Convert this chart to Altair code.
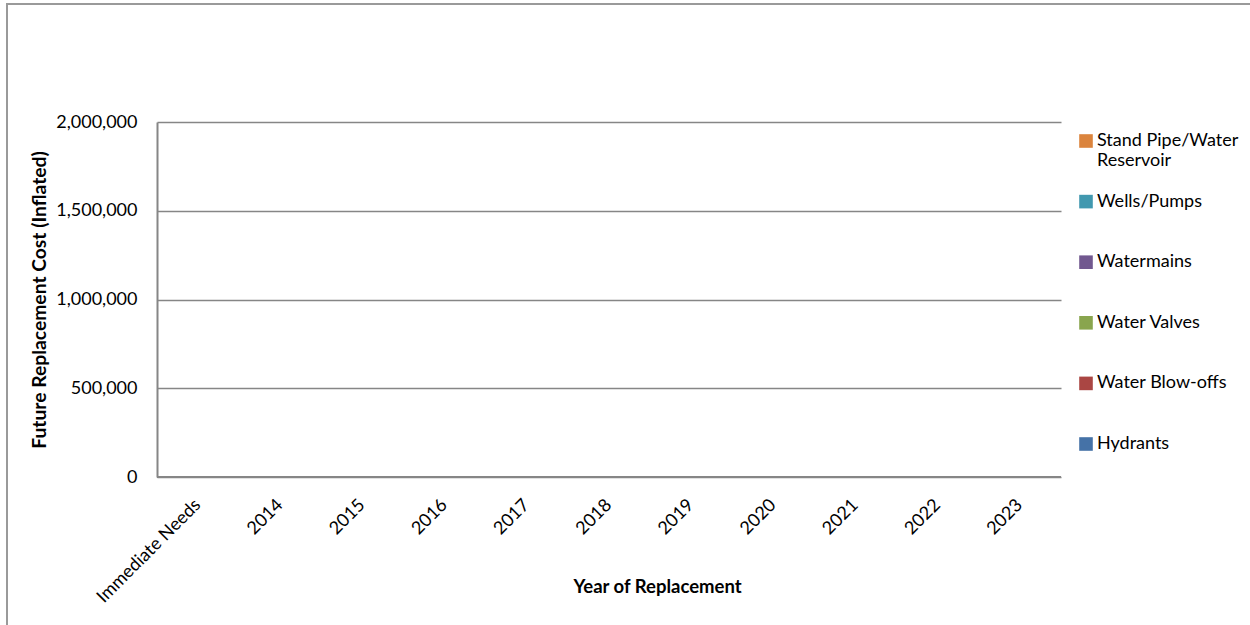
import altair as alt
import pandas as pd

# Replacement years and asset classes
periods = ["Immediate Needs", "2014", "2015", "2016", "2017", "2018",
           "2019", "2020", "2021", "2022", "2023"]
assets = ["Stand Pipe/Water Reservoir", "Wells/Pumps", "Watermains",
          "Water Valves", "Water Blow-offs", "Hydrants"]
colors = ["#DB843D", "#4198AF", "#71588F", "#89A54E", "#AA4643", "#4572A7"]

# Future replacement cost per asset class (no scheduled spending)
cost_hydrants = [0, 0, 0, 0, 0, 0, 0, 0, 0, 0, 0]
cost_blowoffs = [0, 0, 0, 0, 0, 0, 0, 0, 0, 0, 0]
cost_valves = [0, 0, 0, 0, 0, 0, 0, 0, 0, 0, 0]
cost_watermains = [0, 0, 0, 0, 0, 0, 0, 0, 0, 0, 0]
cost_wells = [0, 0, 0, 0, 0, 0, 0, 0, 0, 0, 0]
cost_standpipe = [0, 0, 0, 0, 0, 0, 0, 0, 0, 0, 0]

series = {
    "Hydrants": cost_hydrants,
    "Water Blow-offs": cost_blowoffs,
    "Water Valves": cost_valves,
    "Watermains": cost_watermains,
    "Wells/Pumps": cost_wells,
    "Stand Pipe/Water Reservoir": cost_standpipe,
}
stack_order = list(series.keys())

rows = []
for name, vals in series.items():
    for p, v in zip(periods, vals):
        rows.append({"period": p, "asset": name, "cost": v,
                     "order": stack_order.index(name)})
df = pd.DataFrame(rows)

FONT = "Lato"

bars = alt.Chart(df).mark_bar(size=50).encode(
    x=alt.X("period:N", sort=periods, title="Year of Replacement",
            axis=alt.Axis(labelAngle=-45, labelAlign="right",
                          labelBaseline="middle", ticks=False,
                          labelPadding=25, domain=False, titlePadding=-29,
                          titleX=500, titleFontSize=18.5)),
    y=alt.Y("cost:Q", stack="zero", title="Future Replacement Cost (Inflated)",
            scale=alt.Scale(domain=[0, 2000000]),
            axis=alt.Axis(values=[0, 500000, 1000000, 1500000, 2000000],
                          format=",d", ticks=False, labelPadding=20,
                          titlePadding=6, titleFontSize=19.3,
                          domainColor="#868686", domainWidth=2)),
    color=alt.Color(
        "asset:N",
        scale=alt.Scale(domain=assets, range=colors),
        legend=alt.Legend(
            title=None, orient="none", legendX=920, legendY=10,
            symbolType="square", symbolSize=185, symbolStrokeWidth=0,
            symbolOpacity=1, rowPadding=22.6, gridAlign="all",
            labelOffset=2,
            labelExpr="datum.label == 'Stand Pipe/Water Reservoir' ? ['Stand Pipe/Water', 'Reservoir'] : datum.label",
        ),
    ),
    order=alt.Order("order:Q"),
)

# Bottom axis line of the plot area
baseline = alt.Chart(pd.DataFrame({"y": [0]})).mark_rule(
    color="#868686", strokeWidth=2
).encode(y="y:Q")

# Outer frame of the chart
frame = alt.Chart(pd.DataFrame({"k": [0]})).mark_rect(
    fill=None, stroke="#9a9a9a", strokeWidth=2
).encode(x=alt.value(-150), x2=alt.value(1110),
         y=alt.value(-118), y2=alt.value(520))

chart = alt.layer(frame, bars, baseline).properties(
    width=904, height=355,
    padding={"left": 157, "top": 122, "right": 189, "bottom": 148},
    autosize=alt.AutoSizeParams(type="none"),
    background="white",
).configure_view(stroke=None).configure_axis(
    labelFont=FONT, titleFont=FONT, labelFontSize=18,
    labelColor="#000000", titleColor="#000000", titleFontWeight="bold",
    gridColor="#868686", gridWidth=1.5,
).configure_legend(
    labelFont=FONT, labelFontSize=18, labelColor="#000000", padding=0,
    labelLimit=300,
)

chart.save("out.html", embed_options={"renderer": "svg", "actions": False})
